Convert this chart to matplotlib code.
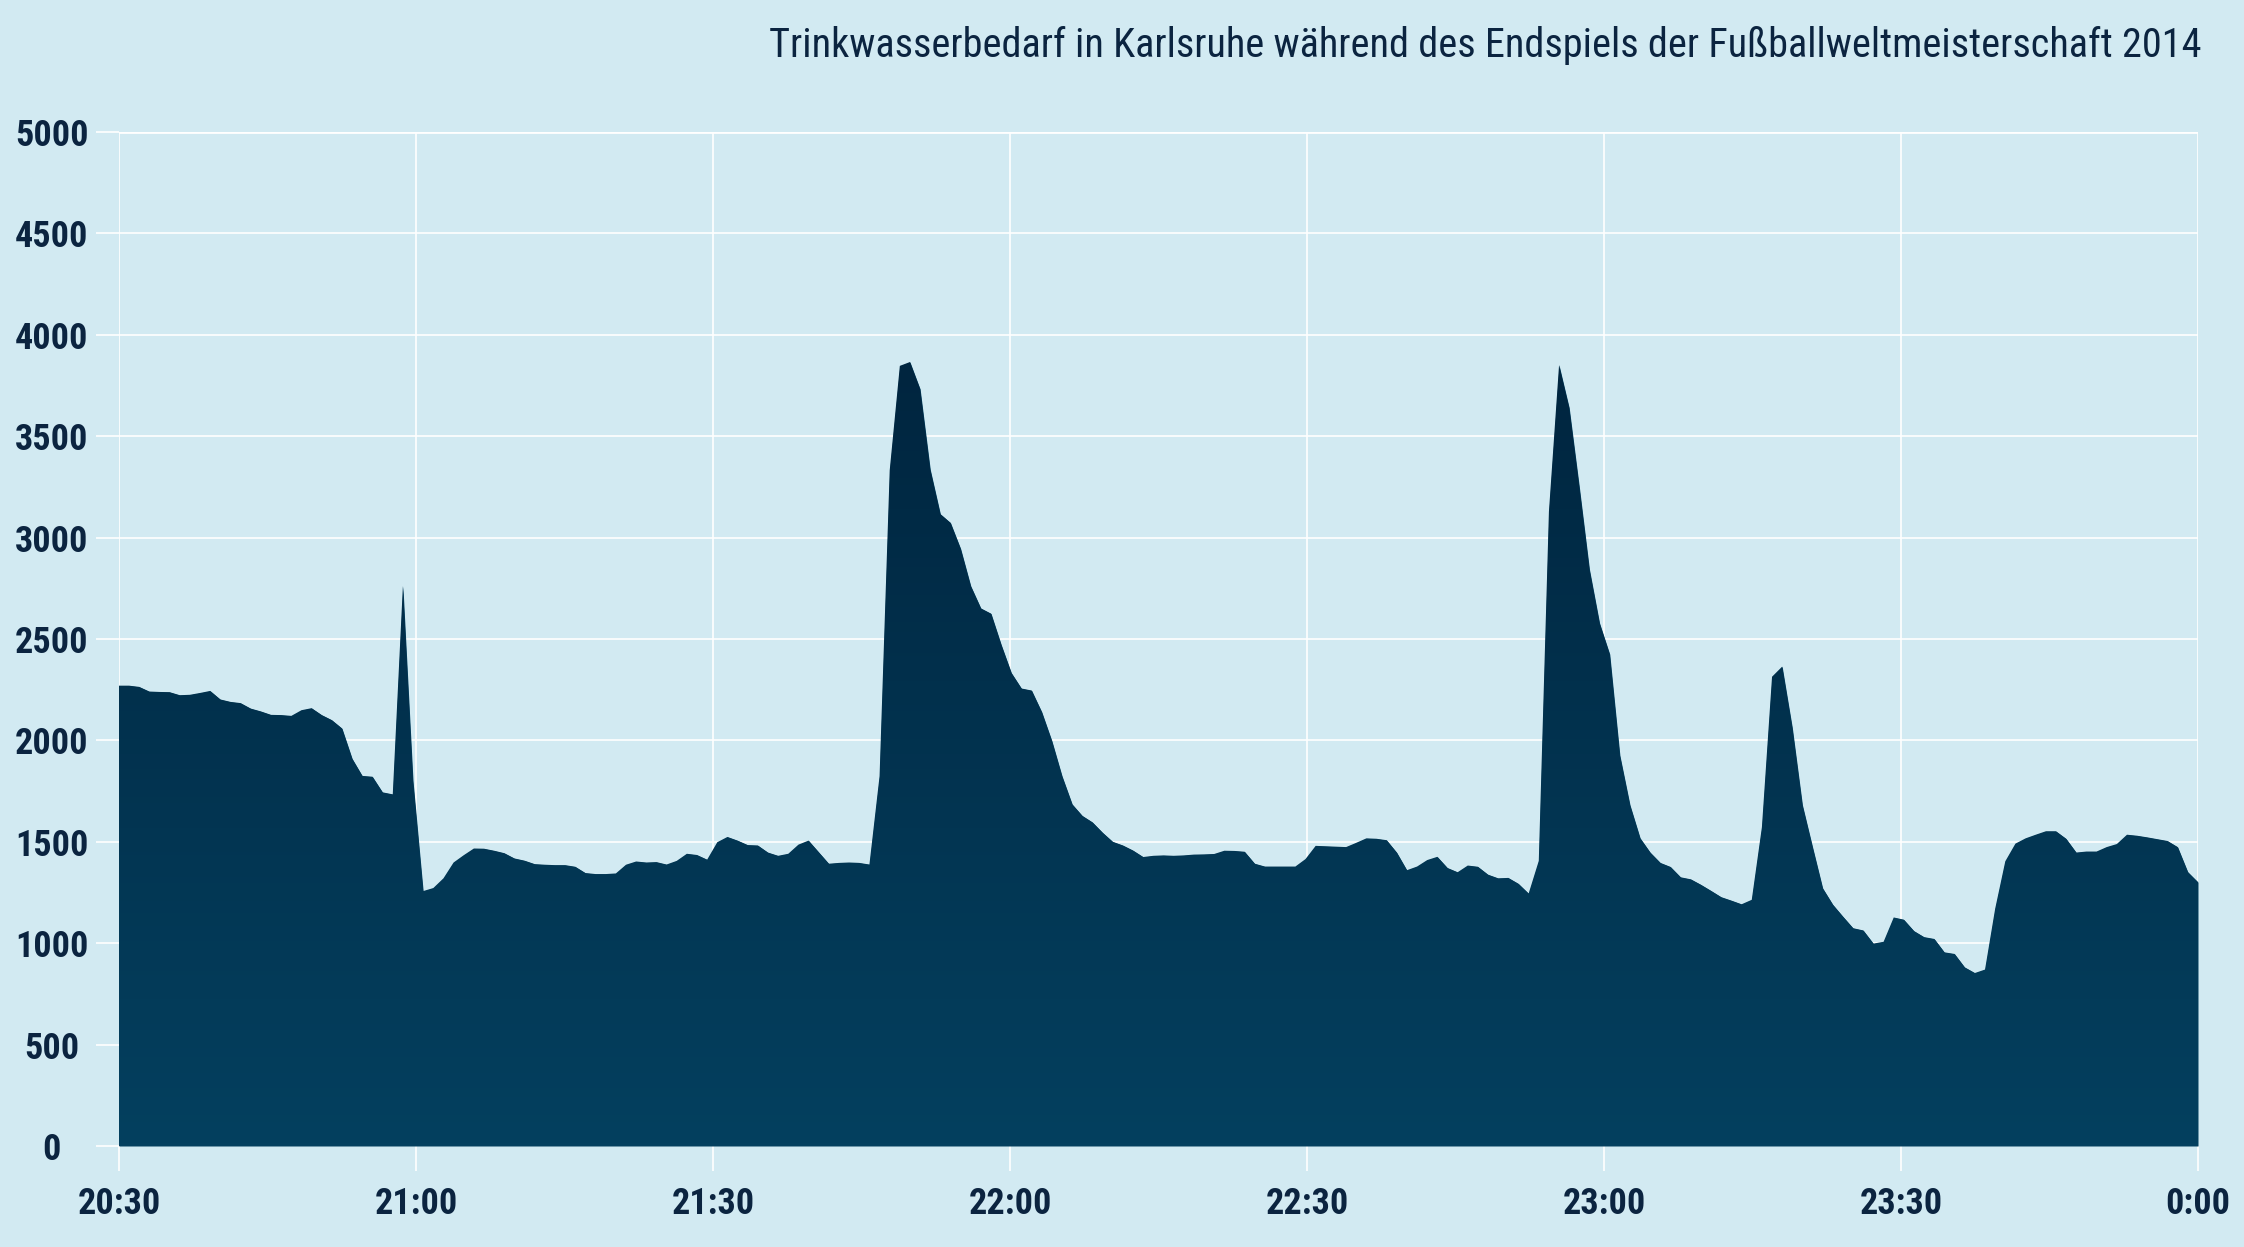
import matplotlib
matplotlib.use("Agg")
import matplotlib.pyplot as plt
import numpy as np

# water demand, roughly one reading per minute from 20:30 to 0:00
demand = [
    2270, 2270, 2264, 2241, 2239, 2238, 2223, 2225, 2234, 2244,
    2202, 2190, 2184, 2157, 2143, 2126, 2125, 2121, 2149, 2159,
    2125, 2100, 2059, 1910, 1825, 1821, 1744, 1734, 2762, 1800,
    1257, 1272, 1320, 1398, 1434, 1467, 1466, 1456, 1444, 1418,
    1407, 1390, 1387, 1385, 1385, 1377, 1346, 1341, 1341, 1344,
    1387, 1403, 1398, 1400,
    1388, 1406, 1441, 1435, 1412, 1498, 1524, 1506, 1484, 1482,
    1447, 1431, 1441, 1486, 1506, 1449, 1392, 1396, 1398, 1396,
    1388, 1824, 3332, 3847, 3866, 3733, 3336, 3116, 3073, 2945,
    2761, 2651, 2625, 2472, 2333, 2256, 2246, 2140, 1997, 1824,
    1685, 1628, 1596, 1545, 1500, 1482, 1457, 1425, 1431, 1433,
    1431, 1433, 1437,
    1438, 1440, 1456, 1455, 1451, 1392, 1378, 1378, 1378, 1378,
    1415, 1480, 1478, 1476, 1474, 1495, 1517, 1515, 1508, 1447,
    1360, 1378, 1410, 1426, 1371, 1350, 1383, 1377, 1338, 1320,
    1322, 1293, 1245, 1406, 3128, 3851, 3641, 3250, 2843, 2578,
    2425, 1926, 1681, 1518, 1447, 1396, 1376, 1325, 1315, 1288,
    1258, 1227,
    1210, 1192, 1214, 1572, 2314, 2364, 2063, 1681, 1474, 1271,
    1190, 1131, 1074, 1063, 998, 1007, 1127, 1116, 1060, 1030,
    1021, 955, 947, 881, 853, 870, 1170, 1404, 1491, 1517,
    1535, 1552, 1552, 1515, 1447, 1452, 1452, 1474, 1489, 1535,
    1530, 1522, 1513, 1504, 1474, 1351, 1301,
]
minutes = np.linspace(0, 210, len(demand))

tick_minutes = [0, 30, 60, 90, 120, 150, 180, 210]
tick_labels = ["20:30", "21:00", "21:30", "22:00", "22:30", "23:00", "23:30", "0:00"]
y_ticks = list(range(0, 5001, 500))

title = "Trinkwasserbedarf in Karlsruhe während des Endspiels der Fußballweltmeisterschaft 2014"

BG = "#d2eaf2"
INK = "#0b2440"
TOP = "#00253f"
BOTTOM = "#04405f"
FONTS = ["Roboto Condensed", "Liberation Sans Narrow", "DejaVu Sans"]

plt.rcParams["font.family"] = FONTS

fig = plt.figure(figsize=(22.44, 12.47), dpi=100, facecolor=BG)
ax = fig.add_axes([0.053, 0.081, 0.9265, 0.8131])
ax.set_facecolor(BG)

for t in tick_minutes:
    ax.axvline(t, color="white", lw=1.2, zorder=1)
for v in y_ticks:
    ax.axhline(v, color="white", lw=2.0 if v == 5000 else 1.2, zorder=1)

area = ax.fill_between(minutes, 0, demand, color=BOTTOM, lw=0, zorder=2)

# vertical gradient, dark on top, clipped to the area
grad = np.linspace(0, 1, 256).reshape(-1, 1)
cmap = matplotlib.colors.LinearSegmentedColormap.from_list("g", [BOTTOM, TOP])
img = ax.imshow(grad, cmap=cmap, origin="lower", aspect="auto",
                extent=[0, 210, 0, max(demand)], zorder=3)
img.set_clip_path(area.get_paths()[0], transform=ax.transData)
ax.set_xlim(0, 210)
ax.set_ylim(0, 5000)

for s in ax.spines.values():
    s.set_visible(False)

ax.set_xticks(tick_minutes)
ax.set_xticklabels(tick_labels)
ax.set_yticks(y_ticks)
ax.set_yticklabels([str(v) for v in y_ticks])
ax.tick_params(axis="x", length=18, width=1.2, color="white", pad=11,
               labelsize=26, labelcolor=INK)
ax.tick_params(axis="y", length=16.5, width=1.2, color="white", pad=32,
               labelsize=26, labelcolor=INK)
for lbl in ax.get_xticklabels() + ax.get_yticklabels():
    lbl.set_fontweight("bold")
for lbl in ax.get_yticklabels():
    lbl.set_ha("center")

fig.text(0.981, 0.954, title, ha="right", va="baseline", fontsize=29,
         color=INK)

fig.savefig("out.png", dpi=100, facecolor=BG)
